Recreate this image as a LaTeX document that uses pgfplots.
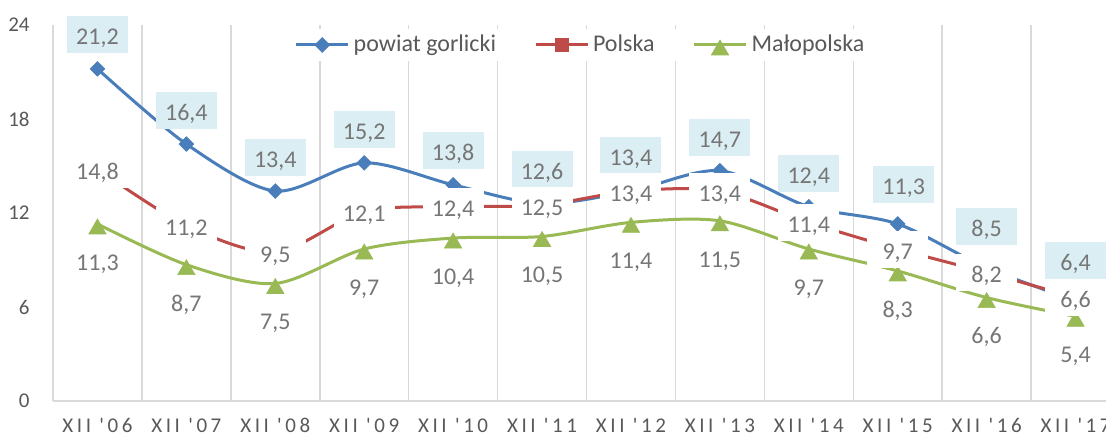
\documentclass[border=0pt]{standalone}
\usepackage{fontspec}
\setmainfont{Carlito}
\newfontfamily\tickfont[LetterSpace=17]{Carlito}
\usepackage{pgfplots}
\pgfplotsset{compat=1.18}
\usepackage{pgfplotstable}

\definecolor{gorl}{HTML}{4A7EBB}
\definecolor{pols}{HTML}{BE4B48}
\definecolor{malo}{HTML}{98B954}
\definecolor{lab}{HTML}{767676}
\definecolor{tickc}{HTML}{595959}
\definecolor{gridc}{HTML}{D9D9D9}
\definecolor{boxc}{HTML}{DBEEF4}

% x, powiat gorlicki, Polska, Malopolska, label offsets
\pgfplotstableread{
x  g     p     m     dy    dx
0  21.2  14.8  11.3  17.2  0
1  16.4  11.2  8.7   16.8  0
2  13.4  9.5   7.5   17.0  0
3  15.2  12.1  9.7   16.7  0
4  13.8  12.4  10.4  17.2  0
5  12.6  12.5  10.5  17.0  0
6  13.4  13.4  11.4  17.7  0
7  14.7  13.4  11.5  16.5  0
8  12.4  11.4  9.7   16.5  0
9  11.3  9.7   8.3   19.6  3
10 8.5   8.2   6.6   20.6  0
11 6.4   6.6   5.4   20.0  0
}\dane

\tikzset{lbl/.style={font=\fontsize{12}{14}\selectfont, text=lab, inner sep=0pt,
  minimum width=30.5pt, minimum height=18.5pt, text height=10pt, text depth=0pt, anchor=center}}

\begin{document}
\begin{tikzpicture}
\begin{axis}[
  scale only axis, width=533.5pt, height=188pt,
  at={(26.5pt,18pt)}, anchor=south west,
  xmin=-0.5, xmax=11.5, ymin=0, ymax=24,
  ytick={0,6,...,24},
  xtick={0,...,11},
  xticklabels={XII '06,XII '07,XII '08,XII '09,XII '10,XII '11,XII '12,XII '13,XII '14,XII '15,XII '16,XII '17},
  minor xtick={-0.5,0.5,...,11.5},
  xminorgrids, minor grid style={gridc, line width=0.75pt},
  major tick length=0pt, minor tick length=0pt,
  axis line style={draw=none},
  clip=false,
  /pgf/number format/assume math mode=true,
  yticklabel style={font=\fontsize{10.5}{12}\selectfont, text=tickc, anchor=east, inner sep=0pt, xshift=-11.5pt},
  xticklabel style={font=\tickfont\fontsize{10.5}{12}\selectfont, text=tickc, anchor=base, inner sep=0pt, yshift=-16pt},
  legend style={at={(0.5,1)}, anchor=center, xshift=-2.5pt, yshift=-10pt,
    draw=none, fill=white, font=\fontsize{12}{14}\selectfont, text=tickc,
    inner ysep=1pt, inner xsep=4pt,
    /tikz/every even column/.append style={column sep=17pt}},
  legend columns=3,
  legend image code/.code={\draw[mark repeat=2,mark phase=2,#1] plot coordinates {(0pt,0pt) (13pt,0pt) (26pt,0pt)};},
]
\draw[gridc, line width=0.75pt] (rel axis cs:0,0) -- (rel axis cs:1,0);

\addplot[gorl, line width=1.5pt, smooth, mark=square*, mark size=2.6pt,
  mark options={rotate=45, line width=0.3pt}] table[x=x,y=g]{\dane};
\addlegendentry{powiat gorlicki}
\addplot[pols, line width=1.5pt, smooth, mark=square*, mark size=3.25pt,
  mark options={line width=0.3pt}] table[x=x,y=p]{\dane};
\addlegendentry{Polska}
\addplot[malo, line width=1.5pt, smooth, mark=triangle*, mark size=5pt,
  mark options={yshift=-2.5pt, line width=0.3pt}] table[x=x,y=m]{\dane};
\addlegendentry{Małopolska}

% data labels on top of all lines
\addplot[draw=none, mark=none, forget plot, point meta=y,
  visualization depends on={\thisrow{dy} \as \dy},
  visualization depends on={\thisrow{dx} \as \dx},
  nodes near coords={\pgfmathprintnumber[fixed,fixed zerofill,precision=1,use comma]{\pgfplotspointmeta}},
  nodes near coords style={lbl, fill=boxc, yshift=\dy pt, xshift=\dx pt}]
  table[x=x,y=g]{\dane};
\addplot[draw=none, mark=none, forget plot, point meta=y,
  nodes near coords={\pgfmathprintnumber[fixed,fixed zerofill,precision=1,use comma]{\pgfplotspointmeta}},
  nodes near coords style={lbl, fill=white}]
  table[x=x,y=p]{\dane};
\addplot[draw=none, mark=none, forget plot, point meta=y,
  nodes near coords={\pgfmathprintnumber[fixed,fixed zerofill,precision=1,use comma]{\pgfplotspointmeta}},
  nodes near coords style={lbl, fill=white, yshift=-18.2pt}]
  table[x=x,y=m]{\dane};
\end{axis}
\pgfresetboundingbox
\path[use as bounding box] (0,0) rectangle (553pt,218.5pt);
\end{tikzpicture}
\end{document}
